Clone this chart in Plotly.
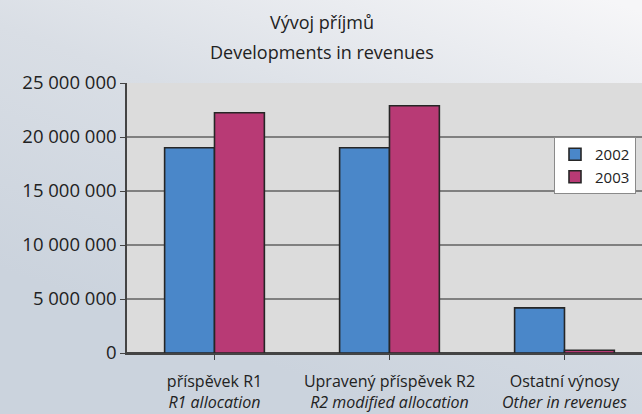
import plotly.graph_objects as go

categories = [
    "příspěvek R1<br><i>R1 allocation</i>",
    "Upravený příspěvek R2<br><i>R2 modified allocation</i>",
    "Ostatní výnosy<br><i>Other in revenues</i>",
]
series_names = ["2002", "2003"]
values_2002 = [19000000, 19000000, 4180000]
values_2003 = [22250000, 22900000, 250000]
title_lines = ["Vývoj příjmů", "Developments in revenues"]
y_ticks = [0, 5000000, 10000000, 15000000, 20000000, 25000000]

FONT = "Open Sans"
colors = ["#4a87c9", "#b83a75"]

fig = go.Figure()
for name, vals, col in zip(series_names, [values_2002, values_2003], colors):
    fig.add_trace(go.Bar(
        x=list(range(len(categories))), y=vals, name=name,
        marker=dict(color=col, line=dict(color="#262626", width=1.6)),
    ))

bg_svg = (
    "data:image/svg+xml;utf8,"
    "<svg xmlns='http://www.w3.org/2000/svg' width='642' height='414'>"
    "<defs><linearGradient id='g' x1='0.45' y1='0.9' x2='0.95' y2='0' >"
    "<stop offset='0' stop-color='%23cbd3dd'/>"
    "<stop offset='0.5' stop-color='%23d9dee5'/>"
    "<stop offset='1' stop-color='%23f6f6f8'/>"
    "</linearGradient></defs>"
    "<rect width='642' height='414' fill='url(%23g)'/></svg>"
)

PW, PH, L, T = 515, 270, 127, 83

fig.update_layout(
    width=642, height=414,
    margin=dict(l=L, r=0, t=T, b=61, autoexpand=False),
    paper_bgcolor="#d7dee6",
    plot_bgcolor="#dcdcdc",
    barmode="group",
    bargap=0.43,
    bargroupgap=0,
    separators=", ",
    font=dict(family=FONT, color="#222222"),
    images=[dict(source=bg_svg, xref="paper", yref="paper", x=-L/PW, y=1+T/PH,
                 sizex=642/PW, sizey=414/PH, sizing="stretch", layer="below",
                 xanchor="left", yanchor="top")],
    shapes=[dict(type="rect", xref="paper", yref="paper", x0=0, x1=1, y0=0, y1=1,
                 fillcolor="#dcdcdc", line=dict(width=0), layer="below")],
    legend=dict(
        x=(554-L)/PW, y=1 - (137-T)/PH, xanchor="left", yanchor="top",
        bgcolor="white", bordercolor="#8a8a8a", borderwidth=1,
        font=dict(family=FONT, size=15, color="#222"),
        itemwidth=30, tracegroupgap=4,
    ),
    showlegend=True,
    xaxis=dict(
        tickvals=list(range(len(categories))), ticktext=categories,
        range=[-0.5, 2.443],
        ticks="outside", tickson="boundaries", ticklen=5, tickcolor="#444",
        showline=True, linecolor="#444", linewidth=1.5,
        tickfont=dict(family=FONT, size=16, color="#222"),
        ticklabelstandoff=8,
        showgrid=False,
    ),
    yaxis=dict(
        range=[0, 25000000], tickvals=y_ticks, tickformat=",d",
        ticks="outside", ticklen=5, tickcolor="#444",
        showline=True, linecolor="#444", linewidth=1.5,
        gridcolor="#808080", gridwidth=1.5,
        tickfont=dict(family=FONT, size=18.5, color="#222"),
        zeroline=True, zerolinecolor="#444", zerolinewidth=1.5,
    ),
)

for txt, ypx in zip(title_lines, [22, 52]):
    fig.add_annotation(text=txt, xref="paper", yref="paper",
                       x=(322-L)/PW, y=1 + (T-ypx)/PH,
                       showarrow=False, xanchor="center", yanchor="middle",
                       font=dict(family=FONT, size=18, color="#222"))

fig.write_html("out.html", config={"displayModeBar": False},
               post_script="document.body.style.margin='0';document.body.style.overflow='hidden';")
